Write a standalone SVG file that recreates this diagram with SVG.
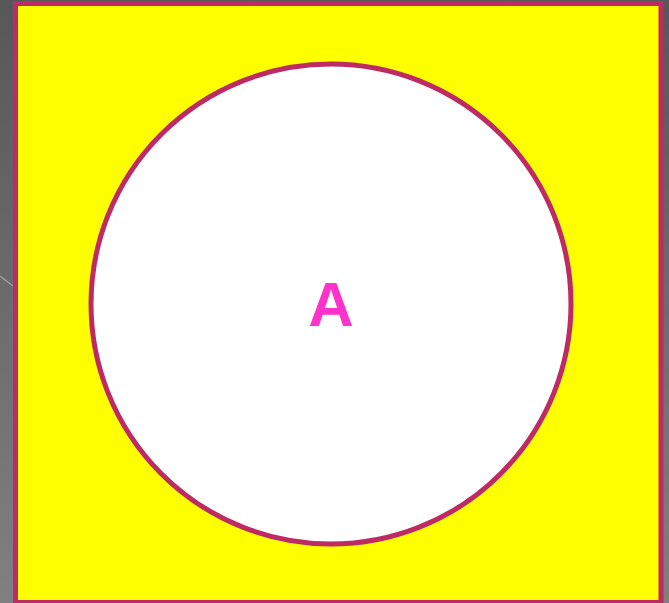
<svg xmlns="http://www.w3.org/2000/svg" width="669" height="603" viewBox="0 0 669 603">
<defs>
<linearGradient id="bg" x1="0" y1="0" x2="0" y2="1">
<stop offset="0" stop-color="#575757"/>
<stop offset="1" stop-color="#808080"/>
</linearGradient>
<style>
.frame{fill:#ffff00;stroke:#be2a63;stroke-width:5}
.circ{fill:#ffffff;stroke:#be2a63;stroke-width:5}
.lbl{font-family:"Liberation Sans",Arial,sans-serif;font-weight:bold;font-size:63px;fill:#ff33cc;text-anchor:middle}
</style>
</defs>
<rect x="0" y="0" width="669" height="603" fill="url(#bg)"/>
<line x1="0" y1="276" x2="13" y2="286" stroke="#9a9a9a" stroke-width="1.5"/>
<g id="frame">
<rect class="frame" x="15.5" y="3.5" width="645.5" height="599"/>
</g>
<g id="nodeA">
<circle class="circ" cx="331" cy="304" r="240"/>
<text class="lbl" x="331" y="326">A</text>
</g>
<g id="connectors"></g>
</svg>
